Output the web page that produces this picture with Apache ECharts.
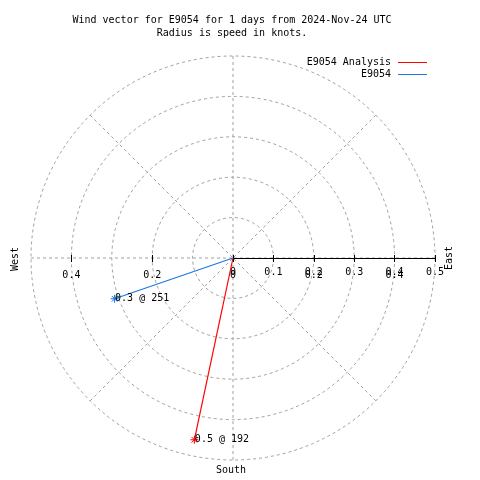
<!DOCTYPE html>
<html><head><meta charset="utf-8">
<script src="https://cdn.jsdelivr.net/npm/echarts@6/dist/echarts.min.js"></script>
<style>html,body{margin:0;padding:0;background:#fff}#c{width:480px;height:480px}</style>
</head><body><div id="c"></div>
<script>
// ---- data ----
const seriesNames = ['E9054 Analysis', 'E9054'];
const speeds = [0.46, 0.31];        // knots
const directions = [192, 251];      // degrees (compass)
const seriesColors = ['#ff0000', '#1a78e0'];
const radiusMax = 0.5;
const radiusStep = 0.1;
const symmetricMin = -0.4, symmetricMax = 0.4, symmetricStep = 0.2;
const titleLines = ['Wind vector for E9054 for 1 days from 2024-Nov-24 UTC', 'Radius is speed in knots.'];
const compassWest = 'West', compassEast = 'East', compassSouth = 'South';

// ---- layout ----
const FONT = 'DejaVu Sans Mono';
const cx = 233, cy = 258, R = 202;
const pxPerKnot = R / radiusMax;
const gridStyle = {color: '#a0a0a0', width: 1, type: [3, 3]};
const asterisk = 'path://M4,0L4,8M0,4L8,4M1.2,1.2L6.8,6.8M1.2,6.8L6.8,1.2';
const fmt = v => { const a = Math.abs(v); return a < 1e-9 ? '0' : String(+a.toFixed(1)); };

const chart = echarts.init(document.getElementById('c'), null, {renderer: 'canvas'});
const hidden = {show: false};
function xAx(grid, min, max, interval, opts) {
  return Object.assign({
    type: 'value', gridIndex: grid, min, max, interval, position: 'bottom', z: 5,
    axisLine: {show: false, onZero: false},
    axisTick: {show: true, inside: false, length: 4, lineStyle: {color: '#000', width: 1}},
    axisLabel: {show: false},
    splitLine: hidden
  }, opts);
}
const option = {
  animation: false,
  backgroundColor: '#fff',
  title: {
    text: titleLines.join('\n'), left: 232, top: 14, textAlign: 'center', padding: 0,
    textStyle: {fontFamily: FONT, fontSize: 10, fontWeight: 'normal', color: '#000', lineHeight: 13}
  },
  legend: {
    data: seriesNames, orient: 'vertical', align: 'right', right: 53, top: 56.5, padding: 0,
    itemGap: 0, itemWidth: 29, itemHeight: 1, icon: 'rect',
    itemStyle: {borderWidth: 0},
    textStyle: {fontFamily: FONT, fontSize: 10, color: '#000', lineHeight: 12, padding: [0, 2, 0, 0]}
  },
  polar: {center: [cx, cy], radius: R},
  angleAxis: {
    type: 'value', min: 0, max: 360, interval: 45, startAngle: 90, clockwise: true,
    axisLine: hidden, axisTick: hidden, axisLabel: hidden,
    splitLine: {show: true, lineStyle: gridStyle}
  },
  radiusAxis: {
    type: 'value', min: 0, max: radiusMax, interval: radiusStep,
    axisLine: hidden, axisTick: hidden, axisLabel: hidden,
    splitLine: {show: true, lineStyle: gridStyle}
  },
  grid: [
    {left: cx, width: R, top: cy - 50, height: 50, show: false},
    {left: cx + symmetricMin * pxPerKnot, width: (symmetricMax - symmetricMin) * pxPerKnot, top: cy - 50, height: 50, show: false}
  ],
  xAxis: [
    xAx(0, 0, radiusMax, radiusStep, {
      axisLine: {show: true, onZero: false, lineStyle: {color: '#000', width: 1}},
      axisLabel: {show: true, margin: 9, formatter: fmt, fontFamily: FONT, fontSize: 10, color: '#000'}
    }),
    xAx(0, 0, radiusMax, radiusStep, {axisTick: {show: true, inside: true, length: 3, lineStyle: {color: '#000'}}}),
    xAx(1, symmetricMin, symmetricMax, symmetricStep, {
      axisLabel: {show: true, margin: 12, formatter: fmt, fontFamily: FONT, fontSize: 10, color: '#000'}
    }),
    xAx(1, symmetricMin, symmetricMax, symmetricStep, {axisTick: {show: true, inside: true, length: 3, lineStyle: {color: '#000'}}})
  ],
  yAxis: [
    {type: 'value', gridIndex: 0, min: 0, max: 1, show: false},
    {type: 'value', gridIndex: 1, min: 0, max: 1, show: false}
  ],
  graphic: [
    {type: 'text', x: 15, y: 259, rotation: Math.PI / 2,
     style: {text: compassWest, font: '10px "' + FONT + '"', fill: '#000', align: 'center', verticalAlign: 'middle'}},
    {type: 'text', x: 449, y: 258, rotation: Math.PI / 2,
     style: {text: compassEast, font: '10px "' + FONT + '"', fill: '#000', align: 'center', verticalAlign: 'middle'}},
    {type: 'text', x: 231, y: 470,
     style: {text: compassSouth, font: '10px "' + FONT + '"', fill: '#000', align: 'center', verticalAlign: 'middle'}}
  ],
  series: seriesNames.map((name, i) => ({
    name, type: 'line', coordinateSystem: 'polar', polarIndex: 0, z: 10,
    symbol: asterisk, symbolSize: 8, showAllSymbol: true,
    lineStyle: {color: seriesColors[i], width: 1.2},
    itemStyle: {color: seriesColors[i], borderColor: seriesColors[i], borderWidth: 1},
    emphasis: {disabled: true},
    label: {show: false},
    data: [
      {value: [0, directions[i]], symbol: 'none'},
      {value: [speeds[i], directions[i]],
       label: {show: true, position: 'right', distance: -4,
               formatter: speeds[i].toFixed(1) + ' @ ' + directions[i],
               fontFamily: FONT, fontSize: 10, color: '#000'}}
    ]
  }))
};
chart.setOption(option);
</script></body></html>
